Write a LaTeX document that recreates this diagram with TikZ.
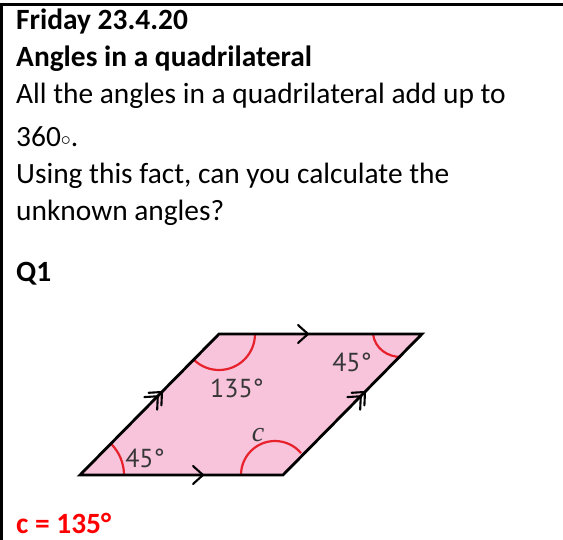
\documentclass[tikz,border=0pt]{standalone}
\usepackage{fontspec}
\setmainfont{Carlito}
\newfontfamily\labelfont{PT Sans}
\newfontfamily\ifont{Liberation Serif}
\usetikzlibrary{calc}
\definecolor{quadpink}{RGB}{247,196,219}
\definecolor{arcred}{RGB}{232,34,44}
\definecolor{labelgray}{RGB}{55,55,55}
\tikzset{
  bodytext/.style={anchor=base west, inner sep=0pt, font=\fontsize{29.4}{35}\selectfont},
  headtext/.style={bodytext, font=\fontsize{29.4}{35}\selectfont\bfseries},
  anglabel/.style={inner sep=0pt, text=labelgray, font=\labelfont\fontsize{26}{28}\selectfont},
  anglearc/.style={draw=arcred, line width=2.2pt},
  chev/.pic={\draw[line width=2.1pt, line cap=round, line join=miter] (-10,9) -- (0,0) -- (-10,-9);},
  dchev/.pic={\draw[line width=2.1pt, line cap=round, line join=miter] (-10,9) -- (0,0) -- (-10,-9) (-16,9) -- (-6,0) -- (-16,-9);}
}
\begin{document}
\begin{tikzpicture}[x=1pt, y=-1pt]
\useasboundingbox (0,0) rectangle (563,540);
% frame
\coordinate (fTL) at (1.3,4.5);
\coordinate (fTR) at (563,4.5);
\coordinate (fBL) at (1.3,540);
\draw[line width=2.6pt] (fBL) -- (fTL) -- (fTR);
% text
\node[headtext] (t1) at (16,30) {Friday 23.4.20};
\node[headtext] (t2) at (16,67) {Angles in a quadrilateral};
\node[bodytext] (t3) at (16,104) {All the angles in a quadrilateral add up to};
\node[bodytext] (t4) at (16,147) {360\raisebox{1pt}{\scalebox{0.8}{$\circ$}}.};
\node[bodytext] (t5) at (16,184) {Using this fact, can you calculate the};
\node[bodytext] (t6) at (16,221) {unknown angles?};
\node[headtext] (q1) at (16,282) {Q1};
\node[headtext, text=red] (ans) at (16,533) {c = 135°};
% parallelogram
\coordinate (A) at (80,475);
\coordinate (B) at (283,475);
\coordinate (C) at (422,334);
\coordinate (D) at (219,334);
\fill[quadpink] (A) -- (B) -- (C) -- (D) -- cycle;
% angle arcs
\draw[anglearc] ($(A)+(44,0)$) arc[start angle=0, end angle=-45, radius=44];
\draw[anglearc] ($(D)+(135:36)$) arc[start angle=135, end angle=0, radius=36];
\draw[anglearc] ($(B)+(-8,0)+(180:34)$) arc[start angle=180, end angle=320, radius=34];
\draw[anglearc] (373,334) .. controls (375,349) and (388,357) .. (401,357);
\draw[line width=2.8pt, line join=miter] (A) -- (B) -- (C) -- (D) -- cycle;
% parallel marks
\pic at (203,475) {chev};
\pic at (308,334) {chev};
\pic[rotate=45.4] at (162,392) {dchev};
\pic[rotate=45.4] at (365,392) {dchev};
% labels
\node[anglabel] (l45a) at (145,458) {45°};
\node[anglabel] (l135) at (237,388) {135°};
\node[anglabel] (l45b) at (352,362) {45°};
\node[inner sep=0pt, text=labelgray, font=\ifont\itshape\fontsize{28}{30}\selectfont] (lc) at (258,435) {c};
\end{tikzpicture}
\end{document}
